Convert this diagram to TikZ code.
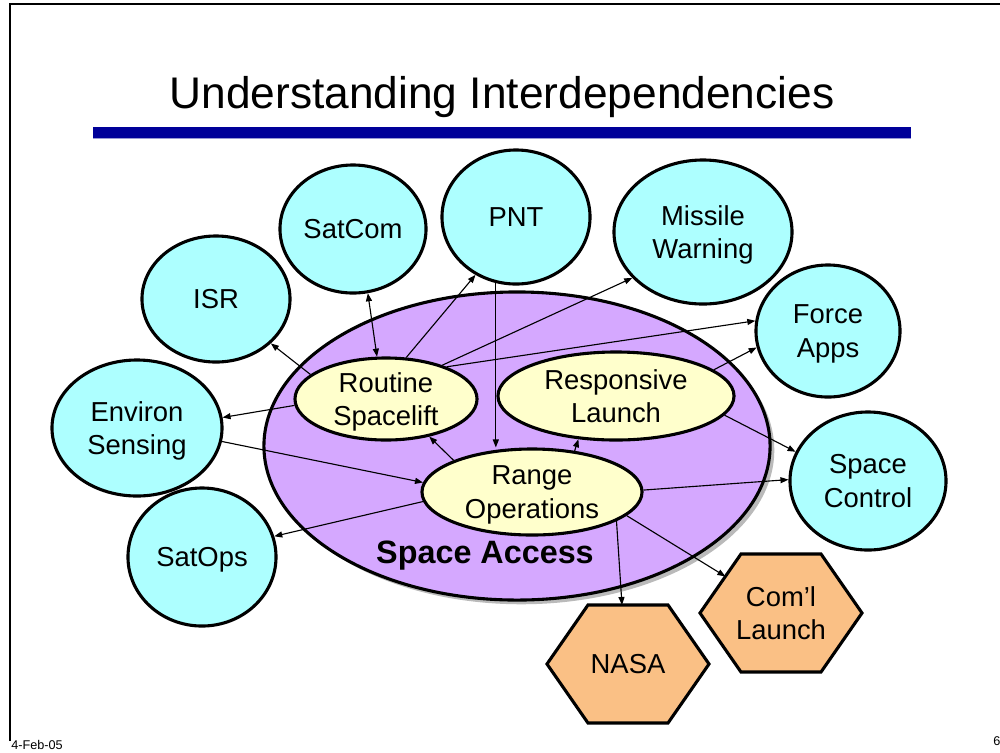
\documentclass[tikz,border=0pt]{standalone}
\usepackage{fontspec}
\setmainfont{Liberation Sans}
\usetikzlibrary{arrows.meta,shapes.geometric,shadows,backgrounds}
\definecolor{aqua}{HTML}{ADFFFF}
\definecolor{cream}{HTML}{FFFFCC}
\definecolor{lilac}{HTML}{D5A8FF}
\definecolor{apricot}{HTML}{FAC085}
\definecolor{barblue}{HTML}{000099}
\newcommand{\hexa}[3]{%
  \node[hexbox] (#1) at (#2) {#3};
  \begin{pgfonlayer}{background}
    \draw[hexline] (#1.west) -- coordinate[pos=.62] (#1-ul) ([xshift=1.025cm]#1.north west)
      -- ([xshift=-1.025cm]#1.north east) -- (#1.east)
      -- ([xshift=-1.025cm]#1.south east) -- ([xshift=1.025cm]#1.south west) -- cycle;
  \end{pgfonlayer}}

\begin{document}
\begin{tikzpicture}[
  x=0.025cm, y=-0.025cm,
  >={Triangle[length=2mm,width=1.5mm]},
  big/.style={font=\fontsize{19.5}{24}\selectfont, align=center, text depth=0pt},
  size/.style 2 args={minimum width=#1*0.05cm, minimum height=#2*0.05cm},
  bubble/.style={big, ellipse, draw, line width=2.2pt, fill=aqua, inner sep=0pt},
  task/.style={big, ellipse, draw, line width=2.2pt, fill=cream, inner sep=0pt},
  access/.style={ellipse, draw, line width=2.2pt, fill=lilac,
    drop shadow={shadow xshift=3pt, shadow yshift=-3pt, fill=black!45, opacity=.6}},
  hexbox/.style={big, rectangle, outer sep=0pt, inner sep=0pt, minimum width=4.05cm, minimum height=2.95cm},
  hexline/.style={draw, line width=2.2pt, fill=apricot, line join=miter},
  link/.style={->, line width=.8pt},
  foot/.style={font=\fontsize{9}{10}\selectfont, inner sep=0pt},
]
\useasboundingbox (0,0) rectangle (1000,752);

% ===== slide frame, title and bar =====
\draw[line width=.8pt] (10,741) -- (10,4) -- (1000,4);
\node[font=\fontsize{31.5}{36}\selectfont, anchor=base, inner sep=0pt] (title) at (502,108) {Understanding Interdependencies};
\fill[barblue] (93,127) rectangle (911,138);
\draw[barblue!40, line width=.6pt] (93,138.6) -- (911,138.6);

% ===== space access =====
\node[access, size={253}{154}] (access) at (517,446) {};
\node[font=\fontsize{23}{26}\selectfont\bfseries, inner sep=0pt] (accesslbl) at (485,556) {Space Access};

\node[task, size={91}{41}]  (routine) at (386,399) {Routine\\Spacelift};
\node[task, size={118}{44}] (resp)    at (616,396) {Responsive\\Launch};
\node[task, size={110}{43}] (range)   at (532,492) {Range\\Operations};

% ===== mission areas =====
\node[bubble, size={74}{63}] (isr)     at (216,299) {ISR};
\node[bubble, size={73}{64}] (satcom)  at (353,229) {SatCom};
\node[bubble, size={74}{67}] (pnt)     at (516,217) {PNT};
\node[bubble, size={89}{72}] (mw)      at (703,232) {Missile\\Warning};
\node[bubble, size={72}{66}] (force)   at (828,331) {Force\\Apps};
\node[bubble, size={78}{69}] (spctl)   at (868,481) {Space\\Control};
\node[bubble, size={85}{68}] (environ) at (137,428) {Environ\\Sensing};
\node[bubble, size={74}{69}] (satops)  at (202,557) {SatOps};

% ===== other launch users =====
\hexa{nasa}{628,664}{NASA}
\hexa{coml}{781,613}{Com’l\\Launch}

% ===== dependencies =====
\draw[link,<->] (satcom.-77) -- (routine.102);
\draw[link] (routine.64) -- (pnt.-125);
\draw[link] (routine.162) -- (isr.-39);
\draw[link] (routine.31) -- (mw.-147);
\draw[link] (routine.28) -- (force.172);
\draw[link] (routine.-176) -- (environ.7);
\draw[link] (pnt.-107) -- (pnt.-107 |- range.north);
\draw[link] (range.158) -- (routine.-41);
\draw[link] (range.44) -- (resp.-131);
\draw[link] (resp.15) -- (force.-167);
\draw[link] (resp.-10) -- (spctl.158);
\draw[link] (range.1) -- (spctl.179);
\draw[link] (environ.-9) -- (range.175);
\draw[link] (range.-175) -- (satops.16);
\draw[link] (range.-19) -- ([xshift=-0.15cm]nasa.north);
\draw[link] (range.-14) -- (coml-ul);

% ===== footer =====
\node[foot, anchor=base west] (date) at (11,749) {4-Feb-05};
\node[foot, anchor=base west] (pageno) at (993,745) {6};
\end{tikzpicture}
\end{document}
